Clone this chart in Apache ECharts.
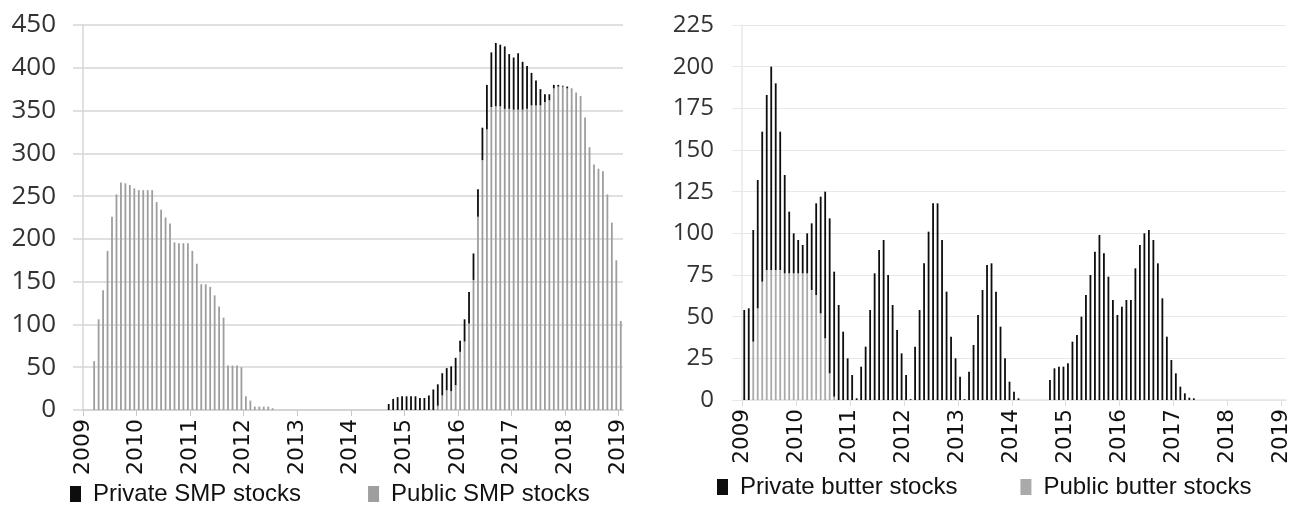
<!DOCTYPE html>
<html><head><meta charset="utf-8">
<script src="https://cdn.jsdelivr.net/npm/echarts@6/dist/echarts.min.js"></script>
<style>html,body{margin:0;padding:0;background:#fff}#c{width:1296px;height:507px}</style>
</head><body><div id="c"></div>
<script>
// Monthly categories Jan 2009 .. Jan 2019 (121 months)
const months = [];
for (let y = 2009; y <= 2019; y++) for (let m = 1; m <= 12; m++) { if (y === 2019 && m > 1) break; months.push(y + '-' + (m < 10 ? '0' + m : m)); }
const yearLabels = ['2009','2010','2011','2012','2013','2014','2015','2016','2017','2018','2019'];
const yearTickMonths = [0,12,24,36,48,60,72,84,96,108,120];

// SMP stocks (left chart)
const smpPublic = [
  0,0,57,106,140,186,226,252,266,265,263,259,
  257,257,257,257,243,234,225,218,196,195,195,195,
  186,171,147,147,144,134,121,108,52,52,52,50,
  16,11,4,4,4,4,2,0,0,0,0,0,
  0,0,0,0,0,0,0,0,0,0,0,0,
  0,0,0,0,0,0,0,0,0,0,0,0,
  0,0,0,0,0,0,0,5,17,23,22,29,
  68,80,101,152,226,292,328,354,355,355,352,352,
  351,351,351,352,356,356,356,360,362,376,378,378,
  376,376,371,367,342,307,287,282,279,252,219,175,
  104];
const smpPrivate = [
  0,0,0,0,0,0,0,0,0,0,0,0,
  0,0,0,0,0,0,0,0,0,0,0,0,
  0,0,0,0,0,0,0,0,0,0,0,0,
  0,0,0,0,0,0,0,0,0,0,0,0,
  0,0,0,0,0,0,0,0,0,0,0,0,
  0,0,0,0,0,0,0,0,7,13,15,16,
  16,16,16,14,14,17,24,25,26,26,29,32,
  13,26,37,31,32,38,52,64,74,72,73,64,
  61,66,56,50,38,29,19,9,7,4,2,1,
  2,0,0,0,0,0,0,0,0,0,0,0,
  0];

// Butter stocks (right chart)
const butterPublic = [
  0,0,35,55,71,78,78,78,78,76,76,76,
  76,76,76,66,63,52,37,16,2,0,0,0,
  0,0,0,0,0,0,0,0,0,0,0,0,
  0,0,0,0,0,0,0,0,0,0,0,0,
  0,0,0,0,0,0,0,0,0,0,0,0,
  0,0,0,0,0,0,0,0,0,0,0,0,
  0,0,0,0,0,0,0,0,0,0,0,0,
  0,0,0,0,0,0,0,0,0,0,0,0,
  0,0,0,0,0,0,0,0,0,0,0,0,
  0,0,0,0,0,0,0,0,0,0,0,0,
  0];
const butterPrivate = [
  54,55,67,77,90,105,122,112,83,59,37,24,
  20,17,24,40,55,70,88,93,75,57,41,25,
  15,1,20,32,54,76,90,96,75,57,42,28,
  15,0.5,32,54,82,101,118,118,96,65,38,25,
  14,0.5,17,33,51,66,81,82,65,44,25,11,
  5,1,0,0,0,0,0,0,12,19,20,20,
  22,35,39,50,63,75,89,99,88,74,60,51,
  56,60,60,79,93,100,102,96,82,61,38,24,
  16,8,4,1.4,1,0,0,0,0,0,0,0,
  0,0,0,0,0,0,0,0,0,0,0,0,
  0];

const DARK = '#0d0d0d', GRAY = '#9e9e9e';

function catAxis(grid, lineColor) {
  return { type: 'category', gridIndex: grid, data: months, boundaryGap: true,
    axisLine: { show: true, lineStyle: { color: lineColor, width: 1.5 } },
    axisTick: { show: false }, axisLabel: { show: false }, splitLine: { show: false } };
}
function yearAxis(grid, tickColor, fs, margin) {
  return { type: 'value', gridIndex: grid, min: 0, max: months.length, position: 'bottom',
    axisLine: { show: false },
    axisTick: { show: true, customValues: yearTickMonths, length: 6, lineStyle: { color: tickColor, width: 1 } },
    axisLabel: { show: true, customValues: yearTickMonths, rotate: 90, margin: margin,
      fontFamily: 'DejaVu Sans', fontSize: fs, color: '#111',
      formatter: v => yearLabels[Math.round(v / 12)] || '' },
    splitLine: { show: false } };
}
function valAxis(grid, max, interval, gridColor, gw, fs, margin, family) {
  return { type: 'value', gridIndex: grid, min: 0, max: max, interval: interval,
    axisLine: { show: true, lineStyle: { color: gridColor, width: 1.5 } },
    axisTick: { show: true, length: 10, lineStyle: { color: gridColor, width: gw } },
    axisLabel: { margin: margin, fontFamily: family, fontSize: fs, color: '#333' },
    splitLine: { show: true, lineStyle: { color: gridColor, width: gw } } };
}

const chart = echarts.init(document.getElementById('c'), null, { renderer: 'canvas' });
chart.setOption({
  animation: false,
  backgroundColor: '#fff',
  grid: [
    { left: 83, top: 25, width: 540, height: 385 },
    { left: 742, top: 25, width: 544, height: 375 }
  ],
  xAxis: [ catAxis(0, '#d0d0d0'), yearAxis(0, '#c8c8c8', 22, 9), catAxis(1, '#e4e4e4'), yearAxis(1, '#dddddd', 21.5, 9) ],
  yAxis: [ valAxis(0, 450, 50, '#d6d6d6', 1.5, 26, 27, 'Open Sans'), valAxis(1, 225, 25, '#e8e8e8', 1, 24, 28, 'Open Sans') ],
  legend: [
    { data: ['Private SMP stocks', 'Public SMP stocks'], left: 65, top: 477, icon: 'rect', itemWidth: 11, itemHeight: 16, itemGap: 67,
      textStyle: { fontFamily: 'Liberation Sans', fontSize: 24, color: '#111', padding: [0,0,0,7] } },
    { data: ['Private butter stocks', 'Public butter stocks'], left: 712, top: 470, icon: 'rect', itemWidth: 11, itemHeight: 16, itemGap: 63,
      textStyle: { fontFamily: 'Liberation Sans', fontSize: 24, color: '#111', padding: [0,0,0,7] } }
  ],
  series: [
    { name: 'Public SMP stocks', type: 'bar', xAxisIndex: 0, yAxisIndex: 0, stack: 'smp', data: smpPublic, barWidth: 1.8, itemStyle: { color: GRAY } },
    { name: 'Private SMP stocks', type: 'bar', xAxisIndex: 0, yAxisIndex: 0, stack: 'smp', data: smpPrivate, barWidth: 1.8, itemStyle: { color: DARK } },
    { name: 'Public butter stocks', type: 'bar', xAxisIndex: 2, yAxisIndex: 1, stack: 'butter', data: butterPublic, barWidth: 1.8, itemStyle: { color: '#aaaaaa' } },
    { name: 'Private butter stocks', type: 'bar', xAxisIndex: 2, yAxisIndex: 1, stack: 'butter', data: butterPrivate, barWidth: 1.8, itemStyle: { color: DARK } }
  ]
});
</script></body></html>
